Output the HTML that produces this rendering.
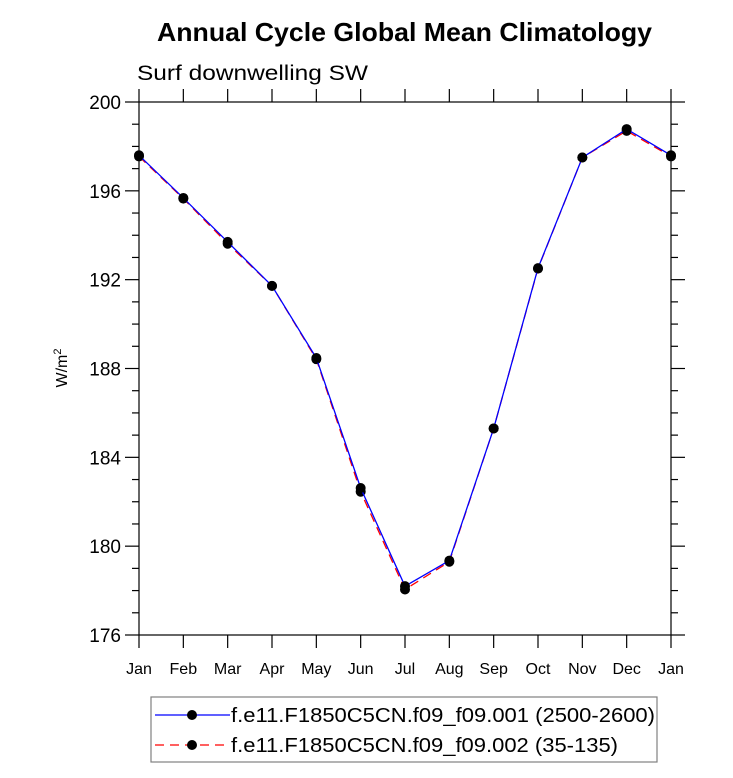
<!DOCTYPE html>
<html><head><meta charset="utf-8"><style>
body{margin:0;background:#fff}
svg text{font-family:"Liberation Sans",sans-serif}
</style></head><body>
<svg width="733" height="773" viewBox="0 0 733 773" xmlns="http://www.w3.org/2000/svg">
<text x="157" y="41" font-size="26" font-weight="bold" textLength="495" lengthAdjust="spacingAndGlyphs">Annual Cycle Global Mean Climatology</text>
<text x="137" y="80" font-size="21" textLength="231" lengthAdjust="spacingAndGlyphs">Surf downwelling SW</text>
<text transform="translate(67,368) rotate(-90)" text-anchor="middle" font-size="16">W/m<tspan dy="-6" font-size="11">2</tspan></text>
<g id="axes"></g>
<g id="series"></g>
<rect x="151" y="697" width="506" height="65" fill="none" stroke="#808080" stroke-width="1.2"/>
<g>
<line x1="155" y1="715" x2="230" y2="715" stroke="#0000ff" stroke-width="1.2"/>
<circle cx="192" cy="715" r="5" fill="#000"/>
<text x="231" y="722" font-size="20" textLength="424" lengthAdjust="spacingAndGlyphs">f.e11.F1850C5CN.f09_f09.001 (2500-2600)</text>
</g>
<g>
<line x1="155" y1="745" x2="230" y2="745" stroke="#ff0000" stroke-width="1.2" stroke-dasharray="9,6"/>
<circle cx="192" cy="745" r="5" fill="#000"/>
<text x="231" y="752" font-size="20" textLength="387" lengthAdjust="spacingAndGlyphs">f.e11.F1850C5CN.f09_f09.002 (35-135)</text>
</g>
</svg>
<script>
const months=["Jan","Feb","Mar","Apr","May","Jun","Jul","Aug","Sep","Oct","Nov","Dec","Jan"];
const series1=[197.6,195.68,193.7,191.72,188.47,182.62,178.2,179.35,185.3,192.52,197.5,198.78,197.6];
const series2=[197.55,195.65,193.62,191.72,188.42,182.45,178.05,179.3,185.3,192.5,197.5,198.7,197.55];
const yTicks=[176,180,184,188,192,196,200];
const X0=139,X1=671,Y0=635,Y1=102,YMIN=176,YMAX=200;
const xs=i=>X0+(X1-X0)*i/(months.length-1);
const ys=v=>Y0-(Y0-Y1)*(v-YMIN)/(YMAX-YMIN);
const NS="http://www.w3.org/2000/svg";
function mk(t,a,p){const e=document.createElementNS(NS,t);for(const k in a)e.setAttribute(k,a[k]);p.appendChild(e);return e;}
const ax=document.getElementById('axes');
const fr=mk('rect',{x:X0,y:Y1,width:X1-X0,height:Y0-Y1,fill:'none',stroke:'#000','stroke-width':1.2},ax);


for(let v=YMIN;v<=YMAX;v++){
 const maj=(v-YMIN)%4===0,L=maj?14:7,y=ys(v);
 mk('line',{x1:X0-L,y1:y,x2:X0,y2:y,stroke:'#000','stroke-width':1.2},ax);
 mk('line',{x1:X1,y1:y,x2:X1+L,y2:y,stroke:'#000','stroke-width':1.2},ax);
}
yTicks.forEach(v=>{
 const t=mk('text',{x:X0-18,y:ys(v)+7,'text-anchor':'end','font-size':19},ax);
 t.textContent=v;
 
 
});
months.forEach((m,i)=>{
 const x=xs(i);
 mk('line',{x1:x,y1:Y1-13,x2:x,y2:Y1,stroke:'#000','stroke-width':1.2},ax);
 mk('line',{x1:x,y1:Y0,x2:x,y2:Y0+13,stroke:'#000','stroke-width':1.2},ax);
 const t=mk('text',{x:x,y:674,'text-anchor':'middle','font-size':16},ax);
 t.textContent=m;
 
 
});
const sg=document.getElementById('series');
function draw(vals,color,dash,name){
 const g=mk('g',{},sg);
 
 
 const pl=mk('polyline',{points:vals.map((v,i)=>xs(i)+','+ys(v)).join(' '),fill:'none',stroke:color,'stroke-width':1.3},g);
 if(dash)pl.setAttribute('stroke-dasharray',dash);
 vals.forEach((v,i)=>{const c=mk('circle',{cx:xs(i),cy:ys(v),r:5,fill:'#000'},g);
  
  });
}
draw(series2,'#ff0000','9,6','series-002');
draw(series1,'#0000ff',null,'series-001');
</script>
</body></html>
